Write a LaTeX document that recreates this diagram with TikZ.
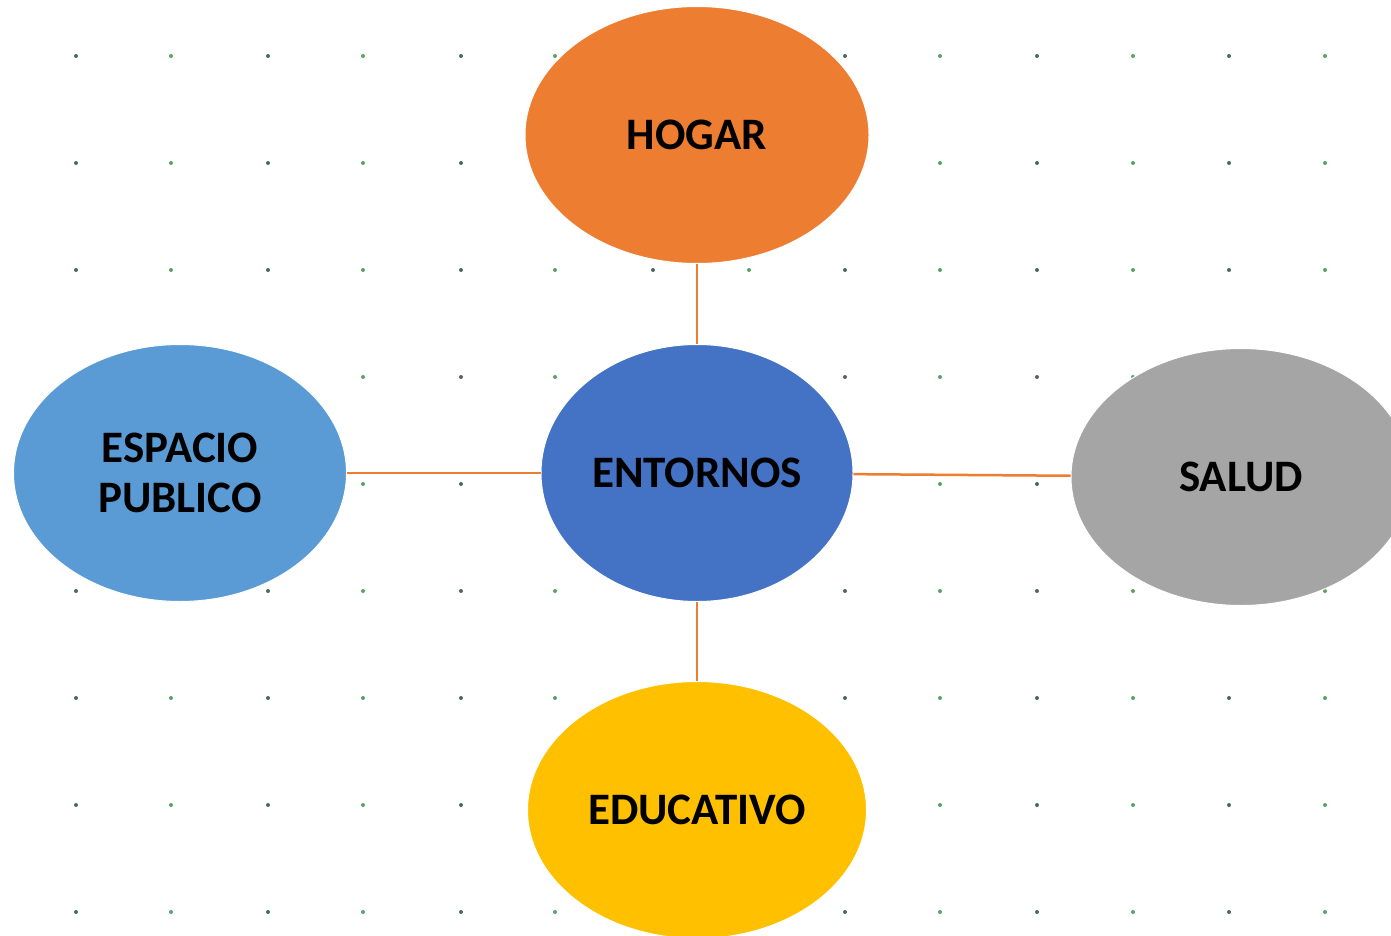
\documentclass[tikz,border=0pt]{standalone}
\usepackage{fontspec}
\setmainfont{Carlito}
\usetikzlibrary{shapes.geometric}
\definecolor{cOrange}{HTML}{ED7D31}
\definecolor{cBlue}{HTML}{4472C4}
\definecolor{cLBlue}{HTML}{5B9BD5}
\definecolor{cGray}{HTML}{A5A5A5}
\definecolor{cGold}{HTML}{FFC000}
\definecolor{dotA}{HTML}{4A6A5C}
\definecolor{dotB}{HTML}{58A468}
\tikzset{
  bubble/.style={ellipse, draw=white, line width=1pt, inner sep=0pt,
    font=\fontsize{45}{50}\selectfont\bfseries, text=black, align=center},
  link/.style={draw=cOrange, line width=2.5pt}
}
\begin{document}
\begin{tikzpicture}[x=1pt,y=-1pt]
\useasboundingbox (0,0) rectangle (1391,936);
\fill[white] (0,0) rectangle (1391,936);
\clip (0,0) rectangle (1391,936);
% dot grid
\foreach \x [count=\i] in {76,171,268,363,461,555,653,749,845,940,1037,1133,1229,1325}{
  \foreach \y in {56,163,270,377,484,591,698,805,912}{
    \pgfmathsetmacro{\odd}{mod(\i,2)}
    \ifdim\odd pt>0.5pt
      \fill[dotA] (\x,\y) circle (2);
    \else
      \fill[dotB] (\x,\y) circle (2);
    \fi
  }
}
% ellipses
\node[bubble, fill=cOrange, minimum width=344, minimum height=257] (hogar) at (697,135) {HOGAR};
\node[bubble, fill=cBlue, minimum width=312, minimum height=257] (entornos) at (697,473) {ENTORNOS};
\node[bubble, fill=cLBlue, minimum width=333, minimum height=257] (espacio) at (180,473) {ESPACIO\\PUBLICO};
\node[bubble, fill=cGray, minimum width=340, minimum height=257] (salud) at (1241,477) {SALUD};
\node[bubble, fill=cGold, minimum width=339, minimum height=257] (educ) at (697,810) {EDUCATIVO};
% connectors
\draw[link] (hogar) -- (entornos);
\draw[link] (espacio) -- (entornos);
\draw[link] (entornos) -- (salud);
\draw[link] (entornos) -- (educ);
\end{tikzpicture}
\end{document}
